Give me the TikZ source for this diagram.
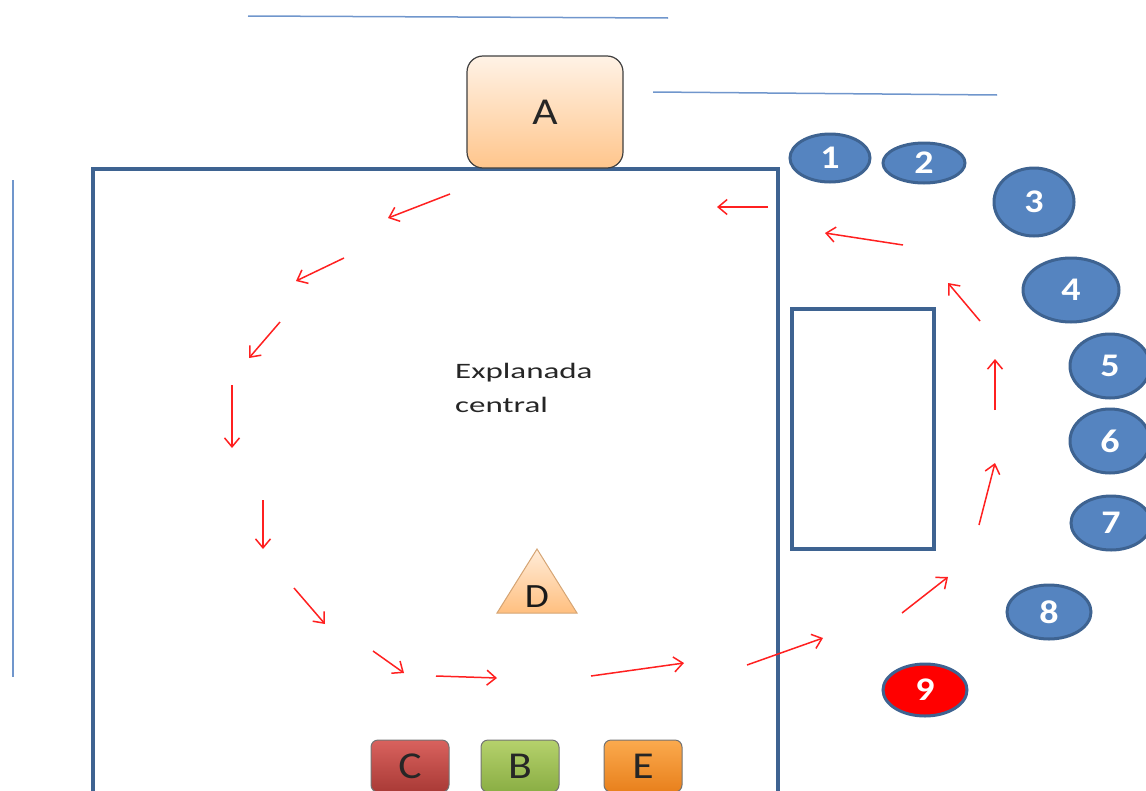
\documentclass[tikz,border=0pt]{standalone}
\usepackage{fontspec}
\setmainfont{Carlito}
\usetikzlibrary{arrows.meta,shapes.geometric}
\definecolor{frame}{HTML}{3E6391}
\definecolor{seat}{HTML}{5584C0}
\definecolor{wall}{HTML}{7096CC}
\definecolor{flow}{HTML}{FF2020}
\definecolor{ctop}{HTML}{D9625E}\definecolor{cbot}{HTML}{A93A36}
\definecolor{btop}{HTML}{B5D16C}\definecolor{bbot}{HTML}{8AAE44}
\definecolor{etop}{HTML}{FBAA4E}\definecolor{ebot}{HTML}{E8801C}
\newcommand{\wide}[2][1.15]{\scalebox{#1}[1]{#2}}
\tikzset{
  flowarrow/.style={draw=flow, line width=1.5pt, -{Straight Barb[length=9pt,width=15pt,line width=1.5pt]}},
  seatnode/.style={ellipse, draw=frame, line width=3pt, fill=seat, text=white, inner sep=0pt, font=\fontsize{33}{33}\selectfont\bfseries},
  stand/.style={rounded corners=7pt, draw=black!55, line width=1pt, minimum width=78pt, minimum height=52pt, inner sep=0pt, font=\fontsize{38}{38}\selectfont, text=black!85},
}
\begin{document}
\begin{tikzpicture}[x=1pt,y=-1pt]
\useasboundingbox (0,0) rectangle (1146,790);
% outer boundary lines
\draw[wall, line width=1.5pt] (248,16) -- (668,18);
\draw[wall, line width=1.5pt] (653,92) -- (997,95);
\draw[wall, line width=2pt] (13,180) -- (13,677);
% central square and side block
\draw[frame, line width=3.5pt] (93,169) rectangle (778,800);
\draw[frame, line width=3.5pt] (792,309) rectangle (934,549);
% stage A
\node[draw=black!75, line width=1.2pt, rounded corners=16pt, top color=orange!10, bottom color=orange!45!white,
      minimum width=156pt, minimum height=112pt, inner sep=0pt, font=\fontsize{38}{38}\selectfont, text=black!85]
      (A) at (545,112) {\wide{A}};
% label
\node[align=left, anchor=north west, inner sep=0pt, font=\fontsize{22}{34}\selectfont, text=black!85]
      (expl) at (455,363) {\wide[1.5]{Explanada}\\\wide[1.5]{central}};
% triangle D
\draw[orange!70!black!55, line width=1pt, top color=orange!15, bottom color=orange!50!white]
      (537,549) -- (577,613) -- (497,613) -- cycle;
\node[font=\fontsize{34}{34}\selectfont, text=black!90] (D) at (537,597) {\wide{D}};
% bottom stands
\node[stand, top color=ctop, bottom color=cbot] (C) at (410,766) {\wide{C}};
\node[stand, top color=btop, bottom color=bbot] (B) at (520,766) {\wide{B}};
\node[stand, top color=etop, bottom color=ebot] (E) at (643,766) {\wide{E}};
% numbered places
\node[seatnode, minimum width=80pt, minimum height=48pt] (n1) at (830,158) {\wide{1}};
\node[seatnode, minimum width=82pt, minimum height=40pt] (n2) at (924,163) {\wide{2}};
\node[seatnode, minimum width=80pt, minimum height=68pt] (n3) at (1034,202) {\wide{3}};
\node[seatnode, minimum width=96pt, minimum height=64pt] (n4) at (1071,290) {\wide{4}};
\node[seatnode, minimum width=80pt, minimum height=64pt] (n5) at (1110,366) {\wide{5}};
\node[seatnode, minimum width=80pt, minimum height=64pt] (n6) at (1110,441) {\wide{6}};
\node[seatnode, minimum width=80pt, minimum height=54pt] (n7) at (1111,523) {\wide{7}};
\node[seatnode, minimum width=84pt, minimum height=54pt] (n8) at (1049,612) {\wide{8}};
\node[seatnode, fill=red, minimum width=84pt, minimum height=52pt] (n9) at (925,690) {\wide{9}};
% circulation path
\coordinate (p1s) at (768,207);  \coordinate (p1e) at (717,207);
\coordinate (p2s) at (903,245);  \coordinate (p2e) at (825,233);
\coordinate (p3s) at (980,321);  \coordinate (p3e) at (948,283);
\coordinate (p4s) at (995,410);  \coordinate (p4e) at (995,359);
\coordinate (p5s) at (979,525);  \coordinate (p5e) at (995,463);
\coordinate (p6s) at (902,613);  \coordinate (p6e) at (948,577);
\coordinate (p7s) at (747,665);  \coordinate (p7e) at (823,638);
\coordinate (p8s) at (591,676);  \coordinate (p8e) at (684,663);
\coordinate (p9s) at (436,676);  \coordinate (p9e) at (497,678);
\coordinate (p10s) at (373,651); \coordinate (p10e) at (404,673);
\coordinate (p11s) at (294,588); \coordinate (p11e) at (325,624);
\coordinate (p12s) at (263,500); \coordinate (p12e) at (263,549);
\coordinate (p13s) at (232,385); \coordinate (p13e) at (232,448);
\coordinate (p14s) at (280,322); \coordinate (p14e) at (249,358);
\coordinate (p15s) at (344,258); \coordinate (p15e) at (296,281);
\coordinate (p16s) at (450,194); \coordinate (p16e) at (388,218);
\foreach \i in {1,...,16} \draw[flowarrow] (p\i s) -- (p\i e);
\end{tikzpicture}
\end{document}
